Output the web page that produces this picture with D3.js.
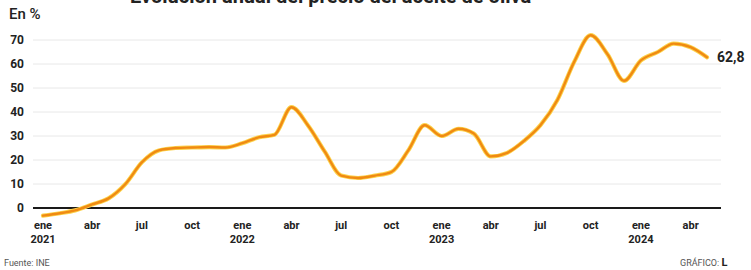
<!DOCTYPE html>
<html>
<head>
<meta charset="utf-8">
<script src="https://cdn.jsdelivr.net/npm/d3@7"></script>
<style>
  body { margin: 0; background: #fff; }
  svg text { font-family: Roboto, "Liberation Sans", sans-serif; }
</style>
</head>
<body>
<div id="chart"></div>
<script>
// Monthly data, Jan 2021 - May 2024 (% interanual)
const months = d3.range(41).map(function (i) { return new Date(2021, i, 1); });
const values = [
  -3.2, -2.2, -1, 1.5, 4, 10, 19, 24, 25, 25.2, 25.4, 25.2,
  27, 29.5, 30.5, 42, 34.5, 23.5, 13.5, 12.5, 13.5, 15, 24, 34.5,
  30, 33, 31, 21.5, 23, 28, 34.5, 45, 61, 72, 64, 53,
  61.5, 65, 68.5, 67, 62.8
];
const yTicks = [0, 10, 20, 30, 40, 50, 60, 70];
const monthNames = ["ene", "feb", "mar", "abr", "may", "jun", "jul", "ago", "sep", "oct", "nov", "dic"];
const lastLabel = "62,8";

const WIDTH = 751, HEIGHT = 270;

const svg = d3.select("#chart").append("svg")
    .attr("width", WIDTH)
    .attr("height", HEIGHT);

const x = d3.scaleTime()
    .domain([new Date(2021, 0, 1), new Date(2024, 4, 1)])
    .range([43, 707]);

const y = d3.scaleLinear()
    .domain([0, 70])
    .range([208, 40]);

// title, mostly above the visible area as in the original crop
svg.append("text")
    .attr("x", 130).attr("y", 2.5)
    .attr("font-size", 20).attr("font-weight", 700)
    .attr("fill", "#222")
    .text("Evolución anual del precio del aceite de oliva");

svg.append("text")
    .attr("x", 9).attr("y", 19)
    .attr("font-size", 15).attr("font-weight", 500)
    .attr("fill", "#222")
    .text("En %");

// grid
svg.append("g").selectAll("line")
    .data(yTicks.filter(function (d) { return d > 0; }))
    .enter().append("line")
    .attr("x1", 33).attr("x2", 721)
    .attr("y1", function (d) { return y(d); })
    .attr("y2", function (d) { return y(d); })
    .attr("stroke", "#e8e8e8")
    .attr("stroke-width", 1);

// y labels
svg.append("g").selectAll("text")
    .data(yTicks)
    .enter().append("text")
    .attr("x", 24)
    .attr("y", function (d) { return y(d) + 4; })
    .attr("text-anchor", "end")
    .attr("font-size", 12).attr("font-weight", 700)
    .attr("fill", "#222")
    .text(function (d) { return d; });

// zero line
svg.append("line")
    .attr("x1", 33).attr("x2", 721)
    .attr("y1", y(0)).attr("y2", y(0))
    .attr("stroke", "#1a1a1a")
    .attr("stroke-width", 2.2);

// x ticks (every 3 months)
const ticks = months.filter(function (d) { return d.getMonth() % 3 === 0; });
const xg = svg.append("g").selectAll("g")
    .data(ticks)
    .enter().append("g")
    .attr("transform", function (d) { return "translate(" + x(d) + ",0)"; });

xg.append("text")
    .attr("y", 229)
    .attr("text-anchor", "middle")
    .attr("font-size", 11).attr("font-weight", 700)
    .attr("fill", "#222")
    .text(function (d) { return monthNames[d.getMonth()]; });

xg.filter(function (d) { return d.getMonth() === 0; })
    .append("text")
    .attr("y", 243)
    .attr("text-anchor", "middle")
    .attr("font-size", 11).attr("font-weight", 700)
    .attr("fill", "#222")
    .text(function (d) { return d.getFullYear(); });

// line
const line = d3.line()
    .x(function (d, i) { return x(months[i]); })
    .y(function (d) { return y(d); })
    .curve(d3.curveMonotoneX);

svg.append("path")
    .datum(values)
    .attr("d", line)
    .attr("fill", "none")
    .attr("stroke", "#fcd34d")
    .attr("stroke-width", 4.2)
    .attr("stroke-linecap", "round");

svg.append("path")
    .datum(values)
    .attr("d", line)
    .attr("fill", "none")
    .attr("stroke", "#f08a12")
    .attr("stroke-width", 2.4)
    .attr("stroke-linecap", "round");

svg.append("text")
    .attr("x", x(months[months.length - 1]) + 10)
    .attr("y", y(values[values.length - 1]) + 5)
    .attr("font-size", 14).attr("font-weight", 700)
    .attr("fill", "#222")
    .text(lastLabel);

// footer
svg.append("text")
    .attr("x", 4).attr("y", 266)
    .attr("font-size", 9)
    .attr("fill", "#555")
    .text("Fuente: INE");

const cred = svg.append("text")
    .attr("x", 680).attr("y", 266)
    .attr("font-size", 9)
    .attr("fill", "#555");
cred.append("tspan").text("GRÁFICO: ");
cred.append("tspan").attr("font-weight", 700).attr("fill", "#222").attr("font-size", 11).text("L");
</script>
</body>
</html>
